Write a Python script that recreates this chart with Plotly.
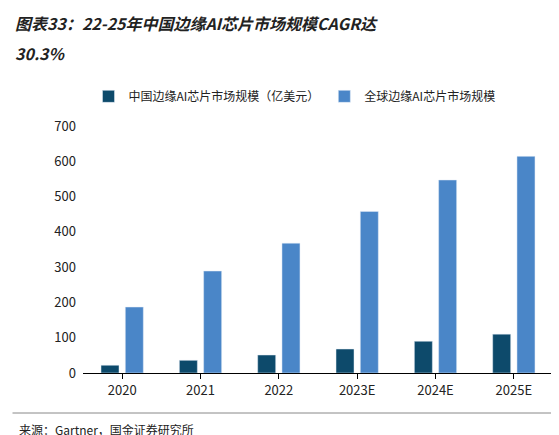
import plotly.graph_objects as go

years = ["2020", "2021", "2022", "2023E", "2024E", "2025E"]
china = [22, 36, 51, 68, 90, 110]
world = [187, 289, 368, 458, 547, 614]
yticks = [0, 100, 200, 300, 400, 500, 600, 700]

fig = go.Figure()
fig.add_bar(x=years, y=china, name="中国边缘AI芯片市场规模（亿美元）", marker_color="#0d4a6b", width=0.23, offset=-0.27)
fig.add_bar(x=years, y=world, name="全球边缘AI芯片市场规模", marker_color="#4a86c8", width=0.23, offset=0.04)

fig.update_layout(
    width=559, height=435, plot_bgcolor="white", paper_bgcolor="white",
    margin=dict(l=75, r=14, t=118, b=70),
    font=dict(family="Noto Sans CJK SC", size=13, color="#222"),
    showlegend=True,
    legend=dict(orientation="h", x=0.45, xanchor="center", y=1.12, yanchor="middle", font=dict(size=12)),
)
fig.update_yaxes(range=[0, 700], tickvals=yticks, showgrid=False, zeroline=False, ticks="", ticklabelstandoff=6)
fig.update_xaxes(showline=True, linecolor="#000", linewidth=1, ticks="outside", ticklen=5, tickcolor="#000")
fig.add_annotation(xref="paper", yref="paper", x=-0.15, y=1.417, xanchor="left", yanchor="middle",
                   showarrow=False, text="<b><i>图表33：22-25年中国边缘AI芯片市场规模CAGR达</i></b>",
                   font=dict(size=16, color="#222"))
fig.add_annotation(xref="paper", yref="paper", x=-0.15, y=1.296, xanchor="left", yanchor="middle",
                   showarrow=False, text="<b><i>30.3%</i></b>", font=dict(size=16, color="#222"))
fig.add_annotation(xref="paper", yref="paper", x=-0.14, y=-0.23, xanchor="left", yanchor="middle",
                   showarrow=False, text="来源：Gartner，国金证券研究所", font=dict(size=12, color="#222"))
fig.add_shape(type="line", xref="paper", yref="paper", x0=-0.15, x1=1.02, y0=-0.162, y1=-0.162, line=dict(color="#888", width=1))
fig.write_html("out.html")
